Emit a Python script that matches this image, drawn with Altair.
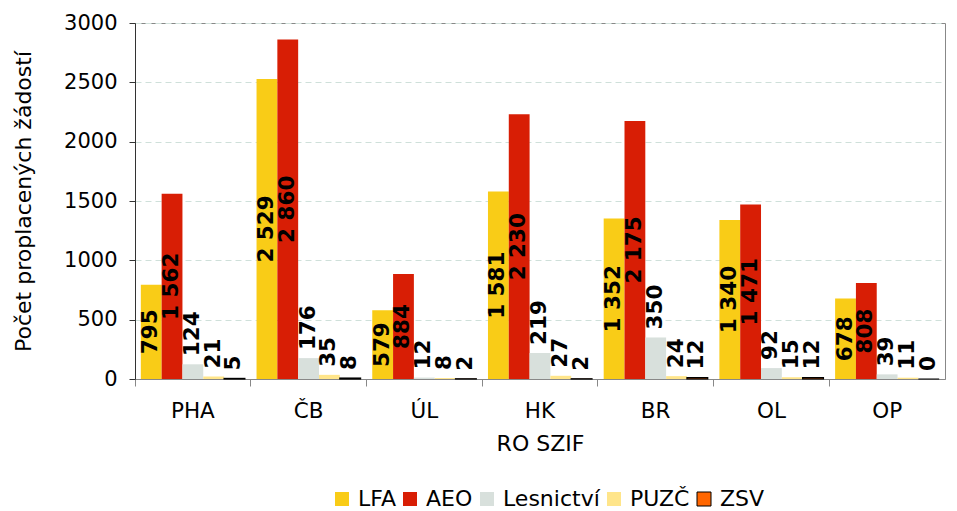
import altair as alt
import pandas as pd

categories = ["PHA", "ČB", "ÚL", "HK", "BR", "OL", "OP"]
series = ["LFA", "AEO", "Lesnictví", "PUZČ", "ZSV"]
lfa = [795, 2529, 579, 1581, 1352, 1340, 678]
aeo = [1562, 2860, 884, 2230, 2175, 1471, 808]
lesnictvi = [124, 176, 12, 219, 350, 92, 39]
puzc = [21, 35, 8, 27, 24, 15, 11]
zsv = [5, 8, 2, 2, 12, 12, 0]
colors = ["#F9CC17", "#D81E05", "#D8E0DC", "#FFE58A", "#FF6600"]
strokes = ["transparent", "transparent", "transparent", "transparent", "#000000"]
y_ticks = [0, 500, 1000, 1500, 2000, 2500, 3000]

rows = []
for s, vals in zip(series, [lfa, aeo, lesnictvi, puzc, zsv]):
    for c, v in zip(categories, vals):
        rows.append({
            "ro": c, "series": s, "value": v,
            "label": f"{v:,}".replace(",", " "),
            "mid": v / 2, "inside": v > 400,
        })
df = pd.DataFrame(rows)

FONT = "DejaVu Sans"
YTITLE = "Počet proplacených žádostí"

x_enc = alt.X("ro:N", sort=categories, scale=alt.Scale(paddingInner=0, paddingOuter=0),
              axis=alt.Axis(title="RO SZIF", labelAngle=0, bandPosition=0, tickSize=7,
                            labelPadding=14, titlePadding=12, domainColor="#888888",
                            tickColor="#888888"))
xo_enc = alt.XOffset("series:N", sort=series, scale=alt.Scale(paddingOuter=0.28, paddingInner=0))
y_scale = alt.Scale(domain=[0, 3000], nice=False)
y_axis = alt.Axis(title=YTITLE, values=y_ticks, format="d", tickSize=6, labelPadding=12,
                  titlePadding=28, gridDash=[6, 4], gridColor="#CFE0DA",
                  domainColor="#333333", tickColor="#333333")

base = alt.Chart(df)

legend = alt.Legend(title=None, orient="none", direction="horizontal", legendX=196, legendY=465)

bars = base.mark_bar(strokeWidth=1.2).encode(
    x=x_enc,
    xOffset=xo_enc,
    y=alt.Y("value:Q", scale=y_scale, axis=y_axis),
    color=alt.Color("series:N", sort=series,
                    scale=alt.Scale(domain=series, range=colors),
                    legend=legend),
    stroke=alt.Stroke("series:N", sort=series,
                      scale=alt.Scale(domain=series, range=strokes),
                      legend=legend),
)

text_style = dict(angle=270, font=FONT, fontWeight="bold", fontSize=21.5, color="black",
                  baseline="middle")

inside = base.transform_filter("datum.inside").mark_text(align="center", **text_style).encode(
    x=x_enc, xOffset=xo_enc,
    y=alt.Y("mid:Q", scale=y_scale, axis=y_axis),
    text="label:N",
)
outside = base.transform_filter("!datum.inside").mark_text(align="left", dx=8, **text_style).encode(
    x=x_enc, xOffset=xo_enc,
    y=alt.Y("value:Q", scale=y_scale, axis=y_axis),
    text="label:N",
)

chart = alt.layer(bars, inside, outside).properties(
    width=810, height=356,
    padding={"left": 4, "top": 4, "right": 2, "bottom": 0},
).configure_axis(
    labelFont=FONT, titleFont=FONT, labelFontSize=21, titleFontSize=22,
    titleFontWeight="normal", labelColor="black", titleColor="black",
).configure_axisX(grid=False, labelFontSize=21.5).configure_view(stroke="#888888").configure_legend(
    symbolType="square", symbolSize=196,
    labelFont=FONT, labelFontSize=22, labelColor="black",
    columnPadding=3, labelOffset=5, symbolStrokeWidth=1,
)

chart.save("out.html", embed_options={"renderer": "svg", "actions": False})
